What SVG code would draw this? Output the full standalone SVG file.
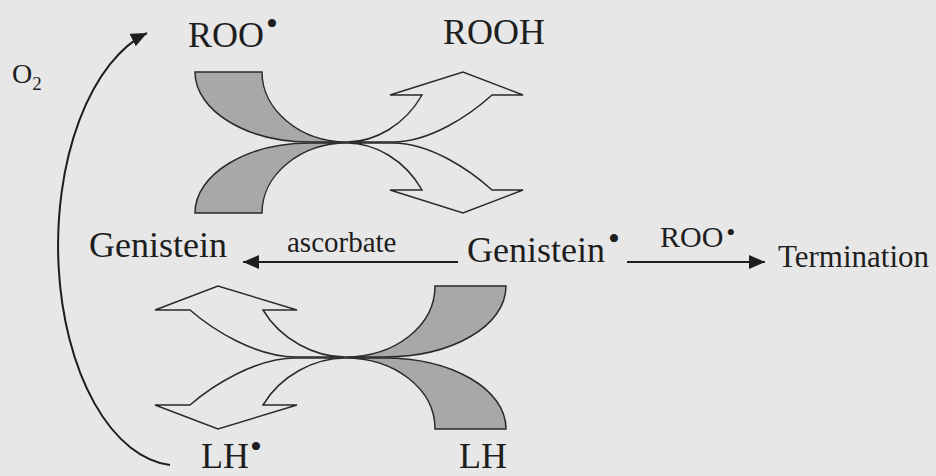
<svg xmlns="http://www.w3.org/2000/svg" width="936" height="476" viewBox="0 0 936 476">
<defs>
<style>
.lbl{font-family:"Liberation Serif","Times New Roman",serif;fill:#1e1e1e;font-size:36px}
.sm{font-size:29px}
.md{font-size:30px}
.tm{font-size:31px}
.o2{font-size:28px}
.band{fill:none;stroke:#2a2a2a;stroke-width:1.5;stroke-linejoin:miter}
.gray{fill:#a8a8a8;stroke:none}
.conn{fill:none;stroke:#1e1e1e;stroke-width:2}
</style>
<marker id="ah" markerUnits="userSpaceOnUse" markerWidth="18" markerHeight="16" refX="16" refY="7" orient="auto">
<path d="M0,0 L16,7 L0,14 Z" fill="#1e1e1e"/>
</marker>
</defs>
<rect width="936" height="476" fill="#e7e7e7"/>

<g id="connectors">
<path class="conn" d="M170,465 A120,220 0 0 1 147,33" marker-end="url(#ah)"/>
<path class="conn" d="M458,262 L243,262" marker-end="url(#ah)"/>
<path class="conn" d="M627,262 L765,262" marker-end="url(#ah)"/>
</g>

<g id="top-exchange">
<path class="gray" d="M195,72 L262,72 C262,110 300,142 347,142 L310,142 C246.5,142 195,110.7 195,72 Z"/>
<path class="band" d="M195,72 C195,110.7 246.5,142 310,142 L393,142 C430,142 470,115 492,95 L523,95 L463,72 L390,95 L422,95 C405,125 375,142 347,142 C300,142 262,110 262,72 Z"/>
<path class="gray" d="M195,213 L262,213 C262,175 300,143 347,143 L310,143 C246.5,143 195,174.3 195,213 Z"/>
<path class="band" d="M195,213 C195,174.3 246.5,143 310,143 L393,143 C430,143 470,170 492,190 L523,190 L463,213 L390,190 L422,190 C405,160 375,143 347,143 C300,143 262,175 262,213 Z"/>
</g>

<g id="bottom-exchange">
<path class="gray" d="M506,286 L435,286 C435,326 395,357 345,357 L384,357 C452,357 506,326 506,286 Z"/>
<path class="band" d="M506,286 C506,326 452,357 384,357 L296,357 C256,357 213,330 190,310 L155,310 L218,286 L297,310 L263,310 C281,340 315,357 345,357 C395,357 435,326 435,286 Z"/>
<path class="gray" d="M506,429 L435,429 C435,389 395,358 345,358 L384,358 C452,358 506,389 506,429 Z"/>
<path class="band" d="M506,429 C506,389 452,358 384,358 L296,358 C256,358 213,385 190,405 L155,405 L218,429 L297,405 L263,405 C281,375 315,358 345,358 C395,358 435,389 435,429 Z"/>
</g>

<g id="roo-radical"><text class="lbl" x="188" y="47">ROO<tspan font-size="34" dx="2" dy="-12">•</tspan></text></g>
<g id="rooh"><text class="lbl" x="443" y="44">ROOH</text></g>
<g id="o2"><text class="lbl o2" x="12" y="83">O<tspan font-size="19" dy="7">2</tspan></text></g>
<g id="genistein"><text class="lbl" x="89" y="257">Genistein</text></g>
<g id="ascorbate"><text class="lbl sm" x="287" y="252">ascorbate</text></g>
<g id="genistein-radical"><text class="lbl" x="467" y="262">Genistein<tspan font-size="34" dx="3" dy="-12">•</tspan></text></g>
<g id="roo-label"><text class="lbl md" x="660" y="247">ROO<tspan font-size="26" dx="3" dy="-6">•</tspan></text></g>
<g id="termination"><text class="lbl tm" x="778" y="267">Termination</text></g>
<g id="lh-radical"><text class="lbl" x="201" y="468">LH<tspan font-size="34" dx="1" dy="-10">•</tspan></text></g>
<g id="lh"><text class="lbl" x="459" y="468">LH</text></g>
</svg>
